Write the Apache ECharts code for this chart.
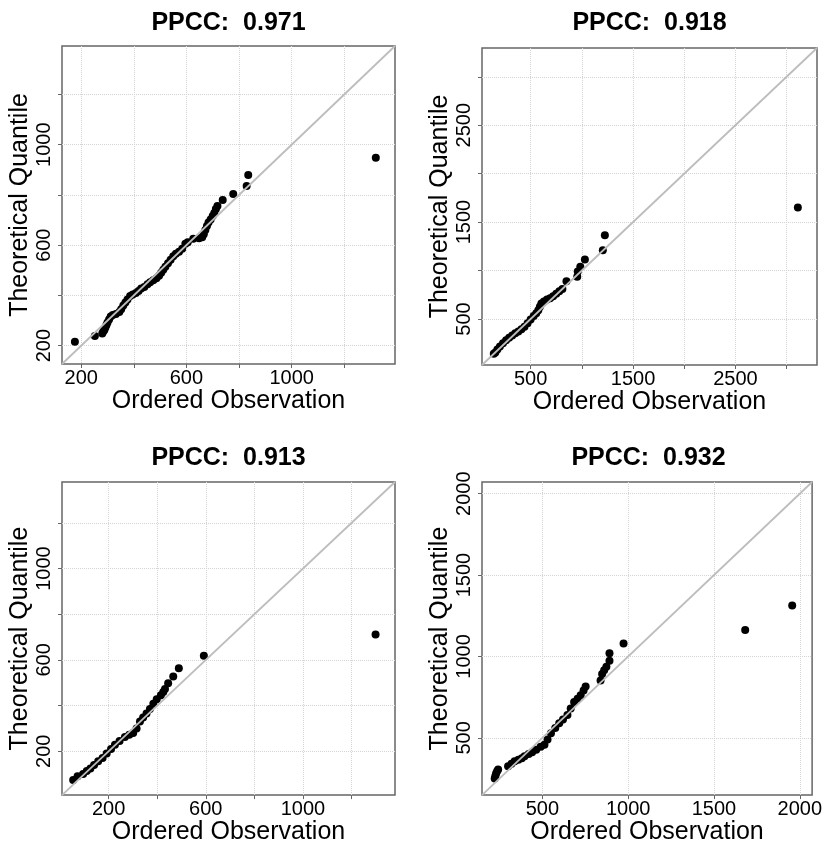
<!DOCTYPE html>
<html><head><meta charset="utf-8">
<script src="https://cdn.jsdelivr.net/npm/echarts@6/dist/echarts.min.js"></script>
<style>html,body{margin:0;padding:0;background:#fff}#c{width:825px;height:846px}</style>
</head><body><div id="c"></div>
<script>
const titles = ['PPCC:  0.971', 'PPCC:  0.918', 'PPCC:  0.913', 'PPCC:  0.932'];
const xName = 'Ordered Observation';
const yName = 'Theoretical Quantile';

// Panel 1
const obs1  = [176,252,280,284,288,292,296,300,306,312,320,332,345,352,360,368,376,386,396,408,418,428,440,452,462,474,486,496,504,512,520,530,540,550,560,572,584,596,605,626,648,660,666,672,678,684,692,700,706,712,718,738,778,829,835,1320];
const theo1 = [216,238,248,256,262,272,282,292,304,316,322,326,334,345,360,372,384,398,404,410,418,428,434,444,452,460,468,478,490,502,514,528,542,556,566,574,586,606,612,626,628,632,644,660,676,690,702,716,728,744,756,780,804,836,879,948];
const limits1 = [127, 1393];
const ticks1 = [200, 400, 600, 800, 1000, 1200];
const labels1 = [200, 600, 1000];

// Panel 2
const obs2  = [140,155,175,200,230,260,290,320,350,380,410,440,470,500,530,555,575,590,605,630,660,690,720,750,780,810,850,955,960,985,1030,1205,1225,3110];
const theo2 = [140,155,185,215,250,280,305,330,352,372,395,420,455,495,530,560,590,625,660,680,700,715,735,760,785,810,890,935,990,1040,1115,1210,1365,1650];
const limits2 = [25, 3297];
const ticks2 = [500, 1000, 1500, 2000, 2500, 3000];
const labels2 = [500, 1500, 2500];

// Panel 3
const obs3  = [54,72,95,110,125,140,157,175,192,210,226,245,267,285,301,315,329,342,356,370,384,398,415,425,432,445,466,489,592,1299];
const theo3 = [74,90,100,113,125,140,156,170,190,210,228,245,262,272,280,300,330,348,365,385,408,428,445,460,473,498,527,563,618,711];
const limits3 = [8, 1379];
const ticks3 = [200, 400, 600, 800, 1000, 1200];
const labels3 = [200, 600, 1000];

// Panel 4
const obs4  = [222,226,230,236,242,300,320,338,360,380,396,420,440,464,490,512,530,550,575,598,620,646,665,685,705,723,740,752,839,848,860,873,891,891,973,1682,1956];
const theo4 = [250,265,280,295,306,326,340,356,365,375,387,400,412,427,445,458,490,528,560,589,612,640,680,720,740,761,790,816,852,892,915,937,973,1019,1080,1163,1313];
const limits4 = [148, 2072];
const ticks4 = [500, 1000, 1500, 2000];
const labels4 = [500, 1000, 1500, 2000];

const panels = [
  {obs: obs1, theo: theo1, lim: limits1, ticks: ticks1, labels: labels1, title: titles[0]},
  {obs: obs2, theo: theo2, lim: limits2, ticks: ticks2, labels: labels2, title: titles[1]},
  {obs: obs3, theo: theo3, lim: limits3, ticks: ticks3, labels: labels3, title: titles[2]},
  {obs: obs4, theo: theo4, lim: limits4, ticks: ticks4, labels: labels4, title: titles[3]}
];

const FONT = '"Liberation Sans", Arial, sans-serif';
const boxes = [[62, 46, 333, 318], [482, 48, 335, 317], [62, 482, 333, 317], [482, 482, 333, 317]];
const titleY = [23, 23, 458, 458];
const plain = v => String(Math.round(v));

const chart = echarts.init(document.getElementById('c'), null, {renderer: 'canvas'});
const series = [];
panels.forEach((p, i) => {
  series.push({
    type: 'scatter', xAxisIndex: i, yAxisIndex: i, z: 2, symbolSize: 8,
    data: p.obs.map((v, k) => [v, p.theo[k]]),
    itemStyle: {color: '#000', opacity: 1}
  });
  series.push({
    type: 'line', xAxisIndex: i, yAxisIndex: i, silent: true, symbol: 'none', z: 3,
    data: [[p.lim[0], p.lim[0]], [p.lim[1], p.lim[1]]],
    lineStyle: {color: '#bdbdbd', width: 1.8}
  });
});

const option = {
  animation: false,
  backgroundColor: '#fff',
  graphic: panels.map((p, i) => ({
    type: 'text', x: boxes[i][0] + boxes[i][2] / 2, y: titleY[i],
    style: {text: p.title, align: 'center', textAlign: 'center', verticalAlign: 'middle', textVerticalAlign: 'middle',
            fontFamily: FONT, fontSize: 25, fontWeight: 'bold', fill: '#000'}
  })),
  grid: boxes.map(b => ({left: b[0], top: b[1], width: b[2], height: b[3], show: true,
    borderColor: '#666', borderWidth: 1.5, backgroundColor: 'transparent'})),
  xAxis: panels.map((p, i) => ({
    type: 'value', gridIndex: i, min: p.lim[0], max: p.lim[1],
    name: xName, nameLocation: 'middle', nameGap: 9,
    nameTextStyle: {fontFamily: FONT, fontSize: 25, color: '#000'},
    axisLine: {show: false},
    axisTick: {show: true, length: 4, lineStyle: {color: '#666'}, customValues: p.ticks},
    axisLabel: {customValues: p.labels, formatter: plain, margin: 4, fontFamily: FONT, fontSize: 20, color: '#000'},
    splitLine: {show: true, lineStyle: {color: '#d4d4d4', type: 'dotted', width: 1}}
  })),
  yAxis: panels.map((p, i) => ({
    type: 'value', gridIndex: i, min: p.lim[0], max: p.lim[1],
    name: yName, nameLocation: 'middle', nameGap: 27,
    nameTextStyle: {fontFamily: FONT, fontSize: 25, color: '#000'},
    axisLine: {show: false},
    axisTick: {show: true, length: 4, lineStyle: {color: '#666'}, customValues: p.ticks},
    axisLabel: {customValues: p.labels, formatter: plain, rotate: 90, margin: 8, fontFamily: FONT, fontSize: 20, color: '#000'},
    splitLine: {show: true, lineStyle: {color: '#d4d4d4', type: 'dotted', width: 1}}
  })),
  series: series
};
chart.setOption(option);
</script>
</body></html>
